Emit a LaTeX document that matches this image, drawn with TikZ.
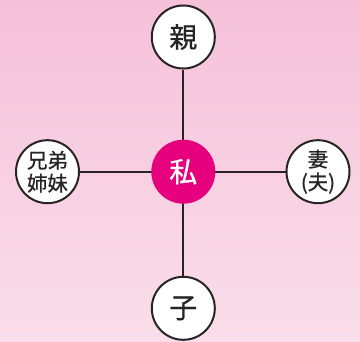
\documentclass[tikz,border=0pt]{standalone}
\usepackage{fontspec}
\newfontfamily\cjk[FakeBold=0.8]{Noto Sans CJK JP}
\definecolor{bgtop}{RGB}{245,193,217}
\definecolor{bgbot}{RGB}{250,222,234}
\definecolor{ink}{RGB}{40,36,38}
\definecolor{mag}{RGB}{230,0,126}
\begin{document}
\begin{tikzpicture}[x=1bp,y=1bp,
  person/.style={circle,draw=ink,line width=2bp,fill=white,minimum size=63bp,inner sep=0pt,text=ink,font=\cjk\fontsize{28}{30}\selectfont},
  small/.style={person,font=\cjk\fontsize{20.5}{23}\selectfont,align=center},
  me/.style={circle,fill=mag,minimum size=64bp,inner sep=0pt,text=white,font=\cjk\fontsize{28}{30}\selectfont},
  link/.style={draw=ink,line width=2.2bp}]
\shade[top color=bgtop,bottom color=bgbot] (0,0) rectangle (360,342);
\useasboundingbox (0,0) rectangle (360,342);
\coordinate (c) at (183.3,170.3);
\node[person] (oya) at (183.3,305) {親};
\node[person] (ko) at (183.3,33.7) {子};
\node[small] (kyodai) at (47.5,170.3) {兄弟\\姉妹};
\node[small] (tsuma) at (318,170.3) {妻\\(夫)};
\draw[link] (c) -- (oya);
\draw[link] (c) -- (ko);
\draw[link] (c) -- (kyodai);
\draw[link] (c) -- (tsuma);
\node[me] (watashi) at (c) {私};
\end{tikzpicture}
\end{document}
